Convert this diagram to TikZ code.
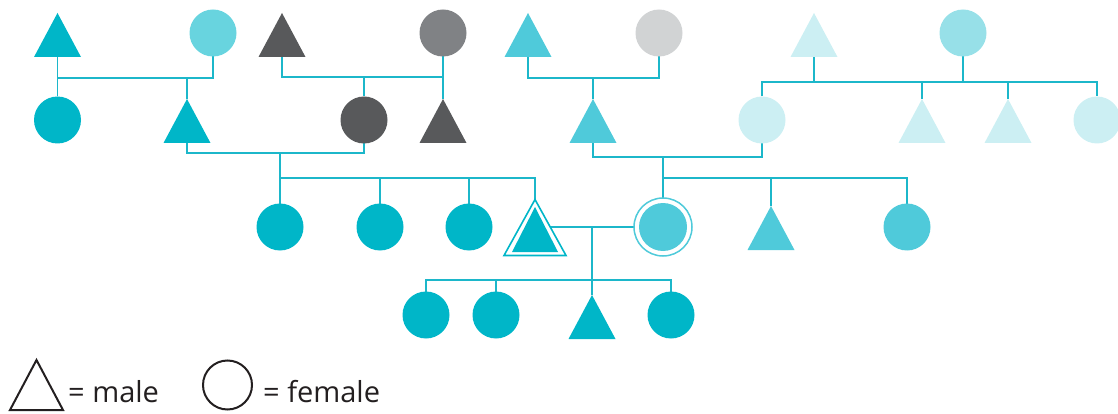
\documentclass[tikz,border=0pt]{standalone}
\usepackage{fontspec}
\setmainfont{Open Sans}
\usetikzlibrary{shapes.geometric,backgrounds}

\definecolor{teal1}{RGB}{0,182,200}
\definecolor{aqua}{RGB}{104,212,223}
\definecolor{midteal}{RGB}{79,202,218}
\definecolor{darkg}{RGB}{88,89,91}
\definecolor{midg}{RGB}{128,130,133}
\definecolor{lightg}{RGB}{209,211,212}
\definecolor{pale}{RGB}{204,239,243}
\definecolor{softteal}{RGB}{151,224,232}
\definecolor{ink}{RGB}{35,31,32}
\definecolor{linkc}{RGB}{28,183,202}

\tikzset{
  fem/.style={circle, fill=#1, minimum size=47pt, inner sep=0pt, outer sep=0pt},
  mal/.style={isosceles triangle, isosceles triangle stretches,
    shape border rotate=90, fill=#1, minimum width=47pt, minimum height=44pt,
    inner sep=0pt, outer sep=0pt, anchor=lower side},
  link/.style={draw=linkc, line width=1.7pt},
  legendtxt/.style={text=ink, inner sep=0pt, anchor=base west,
    font=\fontsize{29}{35}\selectfont},
}

\begin{document}
\begin{tikzpicture}[x=1pt, y=-1pt]
\useasboundingbox (0,0) rectangle (1118,414);

% generation I
\node[mal=teal1]    (a1) at (57.5,57) {};
\node[fem=aqua]     (a2) at (213,33) {};
\node[mal=darkg]    (b1) at (282,57) {};
\node[fem=midg]     (b2) at (443,33) {};
\node[mal=midteal]  (c1) at (528,57) {};
\node[fem=lightg]   (c2) at (659,33) {};
\node[mal=pale]     (d1) at (814,57) {};
\node[fem=softteal] (d2) at (963,33) {};

% generation II
\node[fem=teal1]    (e1) at (57.5,120) {};
\node[mal=teal1]    (e2) at (187,143) {};
\node[fem=darkg]    (e3) at (364,120) {};
\node[mal=darkg]    (e4) at (443,143) {};
\node[mal=midteal]  (e5) at (593,143) {};
\node[fem=pale]     (e6) at (762,120) {};
\node[mal=pale]     (e7) at (922,143) {};
\node[mal=pale]     (e8) at (1008,143) {};
\node[fem=pale]     (e9) at (1097,120) {};

% generation III
\node[fem=teal1]    (f1) at (280,227) {};
\node[fem=teal1]    (f2) at (380,227) {};
\node[fem=teal1]    (f3) at (469,227) {};
\node[isosceles triangle, isosceles triangle stretches, shape border rotate=90,
      draw=teal1, fill=white, line width=1.6pt, minimum width=62pt, minimum height=56pt,
      inner sep=0pt, outer sep=0pt, anchor=lower side] (f4) at (535,255.5) {};
\node[mal=teal1, minimum width=46pt, minimum height=45pt] (f4in) at (535,252) {};
\node[circle, draw=midteal, fill=white, line width=1.5pt, minimum size=58pt,
      inner sep=0pt, outer sep=0pt] (f5) at (663,227) {};
\node[fem=midteal, minimum size=48pt] (f5in) at (663,227) {};
\node[mal=midteal]  (f6) at (771,250) {};
\node[fem=midteal]  (f7) at (907,227) {};

% generation IV
\node[fem=teal1]    (g1) at (426,315) {};
\node[fem=teal1]    (g2) at (496,315) {};
\node[mal=teal1]    (g3) at (592,339) {};
\node[fem=teal1]    (g4) at (671,315) {};

% junction points
\coordinate (jA) at (187,78);
\coordinate (jB) at (364,77);
\coordinate (jC) at (593,78);
\coordinate (jD) at (888,82);
\coordinate (jE) at (280,153);
\coordinate (sF) at (280,178);
\coordinate (jG) at (663,157);
\coordinate (sG) at (663,178);
\coordinate (jH) at (592,227);
\coordinate (sH) at (592,280);

\begin{pgfonlayer}{background}
  % family A
  \draw[link] (a1.lower side) -- (e1.north);
  \draw[link] (a2.south) |- (a1.lower side |- jA);
  \draw[link] (jA) -- (e2.apex);
  % family B
  \draw[link] (b1.lower side) |- (jB) -| (b2.south);
  \draw[link] (b2.south) -- (e4.apex);
  \draw[link] (jB) -- (e3.north);
  % family C
  \draw[link] (c1.lower side) |- (jC) -| (c2.south);
  \draw[link] (jC) -- (e5.apex);
  % family D
  \draw[link] (d1.lower side) -- (d1.lower side |- jD);
  \draw[link] (d2.south) -- (d2.south |- jD);
  \draw[link] (e6.north) |- (jD) -| (e9.north);
  \draw[link] (e7.apex) -- (e7.apex |- jD);
  \draw[link] (e8.apex) -- (e8.apex |- jD);
  % couple e2 + e3 and children
  \draw[link] (e2.lower side) |- (jE) -| (e3.south);
  \draw[link] (jE) -- (f1.north);
  \draw[link] (sF) -| (f4.apex);
  \draw[link] (f2.north) -- (f2.north |- sF);
  \draw[link] (f3.north) -- (f3.north |- sF);
  % couple e5 + e6 and children
  \draw[link] (e5.lower side) |- (jG) -| (e6.south);
  \draw[link] (jG) -- (f5.north);
  \draw[link] (sG) -| (f7.north);
  \draw[link] (f6.apex) -- (f6.apex |- sG);
  % couple f4 + f5 and children
  \draw[link] (f4in.center |- jH) -- (f5.center);
  \draw[link] (jH) -- (g3.apex);
  \draw[link] (g1.north) |- (sH) -| (g4.north);
  \draw[link] (g2.north) -- (g2.north |- sH);
\end{pgfonlayer}

% legend
\node[isosceles triangle, isosceles triangle stretches, shape border rotate=90,
      draw=ink, line width=2pt, minimum width=53pt, minimum height=50pt,
      inner sep=0pt, outer sep=0pt, anchor=lower side] (lm) at (36.5,410) {};
\node[legendtxt] (lmt) at (68,402) {= male};
\node[circle, draw=ink, line width=2pt, minimum size=49pt, inner sep=0pt] (lf) at (227.5,385) {};
\node[legendtxt] (lft) at (263,402) {= female};
\end{tikzpicture}
\end{document}
